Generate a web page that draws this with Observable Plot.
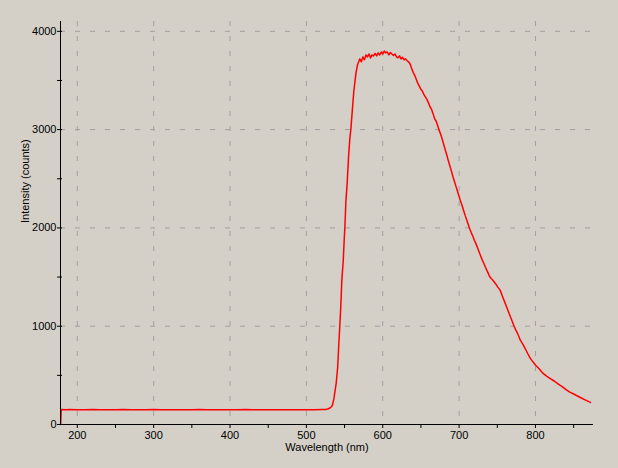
<!DOCTYPE html>
<html>
<head>
<meta charset="utf-8">
<script src="https://cdn.jsdelivr.net/npm/d3@7"></script>
<script src="https://cdn.jsdelivr.net/npm/@observablehq/plot@0.6"></script>
<style>
  html, body { margin: 0; padding: 0; background: #d4d0c8; }
  #chart svg { display: block; }
</style>
</head>
<body>
<div id="chart"></div>
<script>
// Wavelength (nm) and intensity (counts)
const wavelength = [
  178.2, 179, 185, 190, 200, 210, 220, 230, 240, 250, 260, 270, 280, 290, 300, 310, 320, 330, 340, 350,
  360, 370, 380, 390, 400, 410, 420, 430, 440, 450, 460, 470, 480, 490, 500, 510, 520, 525, 528,
  530, 532, 534, 536, 537, 539, 541, 542.5, 543.8, 545.1, 546.4, 548.3, 549.6, 550.4, 551.7, 553.5, 555.2, 556.9, 558.2,
  560, 562, 563.5, 565, 567, 570,
  572, 574, 576, 578, 580, 582, 584, 586, 588, 590, 592, 594, 596, 598, 600, 602, 604, 606, 608, 610,
  612, 614, 616, 618, 620, 622, 624, 626, 628, 630, 632, 634, 636, 638, 640, 642, 644, 646, 648, 650,
  652, 654, 656, 658, 660, 662, 664, 666, 668, 670, 672, 674, 676, 678, 680, 682, 684, 686, 688, 690,
  692, 694, 696, 698, 700, 702, 704, 706, 708, 710, 712, 714, 716, 718, 720, 722, 724, 726, 728, 730,
  732, 734, 736, 738, 740, 742, 744, 746, 748, 750, 752, 754, 756, 758, 760, 762, 764, 766, 768, 770,
  772, 774, 776, 778, 780, 782, 784, 786, 788, 790, 792, 794, 796, 798, 800,
  805, 810, 815, 820, 825, 830, 835, 840, 845, 850, 855, 860, 865, 872
];
const intensity = [
  0, 152, 150, 153, 151, 150, 152, 149, 151, 150, 152, 150, 151, 150, 152, 149, 151, 150, 151, 150,
  152, 150, 151, 149, 151, 150, 152, 150, 151, 150, 151, 149, 151, 150, 151, 150, 152, 153, 158,
  165, 175, 193, 260, 315, 417, 583, 824, 1005, 1211, 1466, 1669, 1893, 2002, 2262, 2466, 2720, 2908, 3000,
  3180, 3380, 3480, 3580, 3660, 3720,
  3690, 3740, 3710, 3760, 3740, 3770, 3730, 3760, 3750, 3775, 3750, 3780, 3760, 3790, 3770, 3800, 3780, 3790, 3760, 3785,
  3770, 3755, 3770, 3740, 3730, 3750, 3720, 3735, 3710, 3720, 3700, 3690, 3665, 3620, 3580, 3550, 3510, 3470, 3440, 3410,
  3390, 3355, 3330, 3305, 3270, 3230, 3205, 3160, 3110, 3085, 3040, 2990, 2950, 2900, 2845, 2790, 2740, 2680, 2630, 2575,
  2520, 2470, 2420, 2370, 2320, 2270, 2225, 2175, 2125, 2080, 2035, 1990, 1950, 1915, 1875, 1840, 1800, 1760, 1720, 1680,
  1645, 1610, 1575, 1540, 1505, 1485, 1470, 1450, 1430, 1405, 1385, 1362, 1320, 1280, 1240, 1200, 1160, 1120, 1080, 1040,
  1000, 965, 935, 900, 860, 835, 810, 780, 750, 720, 690, 665, 645, 625, 605,
  565, 520, 490, 465, 440, 410, 385, 355, 330, 310, 290, 270, 250, 225
];

const xDomain = [178, 876];
const yDomain = [0, 4100];
const xLabelTicks = [200, 300, 400, 500, 600, 700, 800];
const xAllTicks = [200, 250, 300, 350, 400, 450, 500, 550, 600, 650, 700, 750, 800, 850];
const yLabelTicks = [0, 1000, 2000, 3000, 4000];
const yAllTicks = [0, 500, 1000, 1500, 2000, 2500, 3000, 3500, 4000];
const yGridTicks = [1000, 2000, 3000, 4000];

const data = wavelength.map((w, i) => ({w, v: intensity[i]}));

const chart = Plot.plot({
  width: 618,
  height: 468,
  marginLeft: 60,
  marginRight: 25,
  marginTop: 21,
  marginBottom: 44,
  style: {background: "#d4d0c8", fontFamily: "'Liberation Sans', Arial, sans-serif", fontSize: "11px", color: "#000"},
  x: {domain: xDomain},
  y: {domain: yDomain},
  marks: [
    Plot.gridX(xLabelTicks, {stroke: "#a0a0a0", strokeOpacity: 1, strokeDasharray: "5,10"}),
    Plot.gridY(yGridTicks, {stroke: "#a0a0a0", strokeOpacity: 1, strokeDasharray: "5,10"}),
    Plot.line(data, {x: "w", y: "v", stroke: "#ff0000", strokeWidth: 1.5}),
    Plot.ruleX([xDomain[0]], {stroke: "#000"}),
    Plot.ruleY([yDomain[0]], {stroke: "#000"}),
    Plot.axisX(xAllTicks, {tickSize: 4, tickFormat: () => "", label: null}),
    Plot.axisX(xLabelTicks, {tickSize: 0, tickPadding: 7, tickFormat: d => String(d), label: null}),
    Plot.axisY(yAllTicks, {tickSize: 5, dx: 2, tickFormat: () => "", label: null}),
    Plot.axisY(yLabelTicks, {tickSize: 0, tickPadding: 4, tickFormat: d => String(d), label: null}),
    Plot.text(["Wavelength (nm)"], {frameAnchor: "bottom", dy: 26, fontSize: 11}),
    Plot.text(["Intensity (counts)"], {frameAnchor: "left", dx: -35, rotate: -90, fontSize: 11})
  ]
});
document.getElementById("chart").appendChild(chart);
</script>
</body>
</html>
